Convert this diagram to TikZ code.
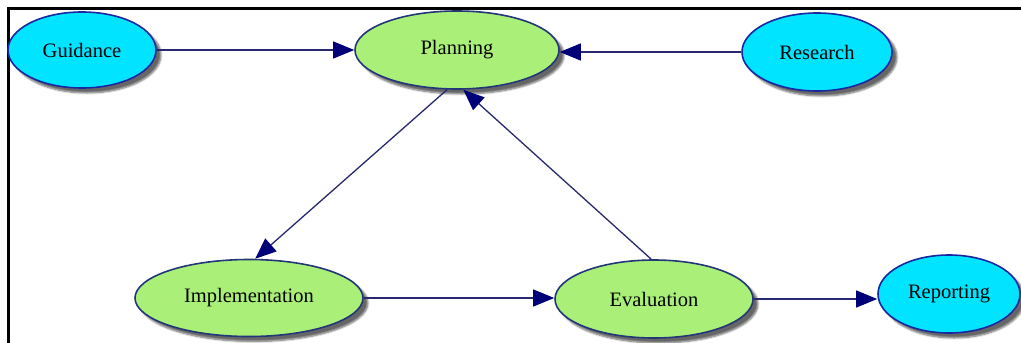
\documentclass[tikz,border=0pt]{standalone}
\usepackage{fontspec}
\setmainfont{Liberation Serif}
\usetikzlibrary{shapes.geometric,arrows.meta,shadows.blur}
\definecolor{cyanfill}{RGB}{0,228,255}
\definecolor{greenfill}{RGB}{170,240,120}
\definecolor{cyanedge}{RGB}{25,40,160}
\definecolor{greenedge}{RGB}{35,55,120}
\definecolor{linkcol}{RGB}{40,40,110}
\definecolor{tipcol}{RGB}{0,0,120}
\begin{document}
\begin{tikzpicture}[x=1pt,y=-1pt,
  stage/.style={ellipse, inner sep=0pt, line width=1.6pt,
    font=\fontsize{20.5}{24}\selectfont,
    blur shadow={shadow xshift=5pt, shadow yshift=-5pt, shadow blur steps=6, shadow opacity=60}},
  outer/.style={stage, draw=cyanedge, fill=cyanfill},
  inner/.style={stage, draw=greenedge, fill=greenfill},
  link/.style={draw=linkcol, line width=1.3pt,
    -{Triangle[length=21pt,width=17pt,fill=tipcol,color=tipcol]}}]
  \useasboundingbox (0,0) rectangle (1021,343);
  % frame along the top and left edges
  \draw[line width=3.2pt] (1021,8.5) -- (8.5,8.5) -- (8.5,343);

  \node[outer, minimum width=148pt, minimum height=76pt] (guid) at (82,50) {Guidance};
  \node[inner, minimum width=204pt, minimum height=78pt] (plan) at (457,50) {Planning};
  \node[outer, minimum width=150pt, minimum height=78pt] (res) at (817,52) {Research};
  \node[inner, minimum width=228pt, minimum height=77pt] (impl) at (249,298) {Implementation};
  \node[inner, minimum width=198pt, minimum height=78pt] (eval) at (654,299) {Evaluation};
  \node[outer, minimum width=142pt, minimum height=78pt] (rep) at (949,294) {Reporting};

  \draw[link] (guid.east) -- (plan.west);
  \draw[link] (res.west) -- (res.west -| plan.east);
  \draw[link] (plan.256) -- (impl.81);
  \draw[link] (eval.94) -- (plan.279);
  \draw[link] (impl.east) -- (impl.east -| eval.west);
  \draw[link] (eval.east) -- (eval.east -| rep.west);
\end{tikzpicture}
\end{document}
